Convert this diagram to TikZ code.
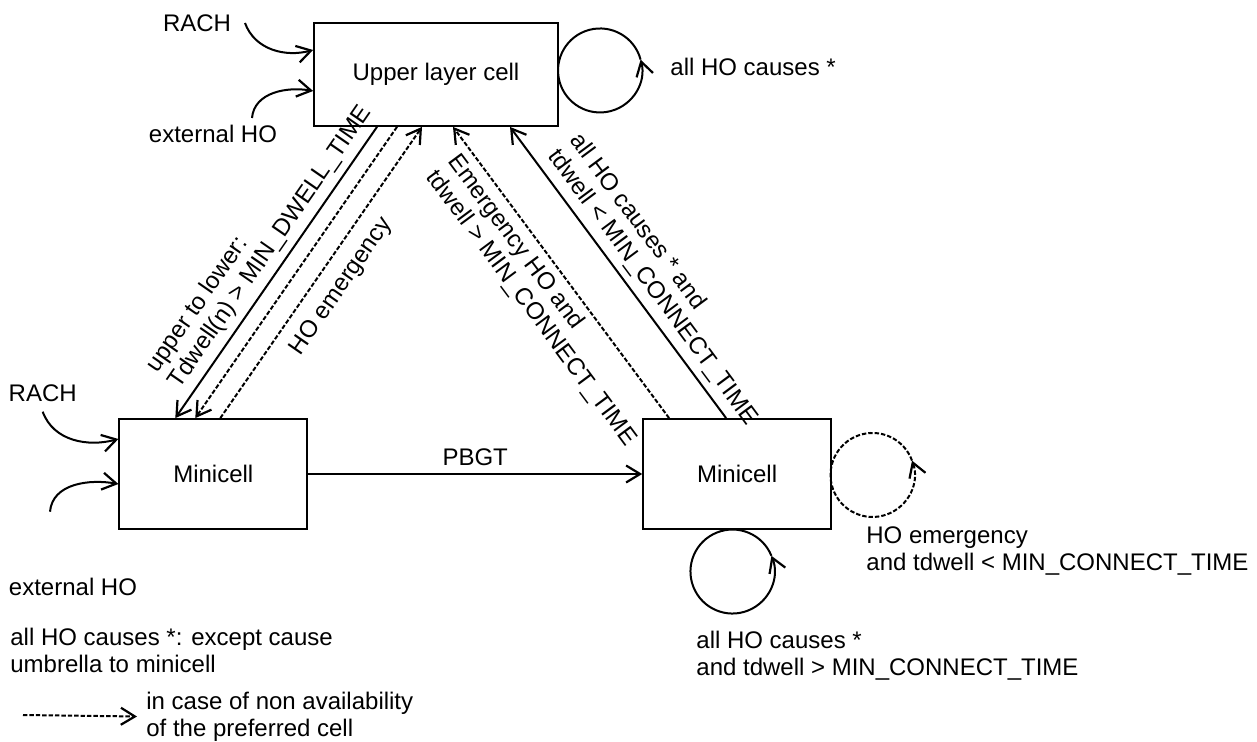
\documentclass[tikz,border=0pt]{standalone}
\usepackage{fontspec}
\setmainfont{Liberation Sans}
\usetikzlibrary{arrows.meta, positioning}

\begin{document}
\begin{tikzpicture}[
    x=0.5pt, y=0.5pt,
    font=\fontsize{12}{13.5}\selectfont,
    cell/.style={rectangle, draw, line width=0.9pt, minimum width=94pt, minimum height=55pt},
    line/.style={draw, line width=1pt, -{Straight Barb[length=7pt, width=8.5pt, line width=1.1pt]}},
    dline/.style={line, line width=1pt, dash pattern=on 2.2pt off 1pt},
    txt/.style={align=left, inner sep=0pt}
]
\useasboundingbox (0,0) rectangle (1257,-742);

% Nodes
\node[cell, minimum width=122pt, minimum height=51.5pt] (upper) at (436,-74.5) {Upper layer cell};
\node[cell] (minileft) at (213.3,-474) {Minicell};
\node[cell, right=167pt of minileft] (miniright) {Minicell};

% Labels
\node[txt] (rachup) at (197,-23) {RACH};
\node[txt] (extup) at (213,-134) {external HO};
\node[txt] (rachleft) at (42.7,-393) {RACH};
\node[txt] (extleft) at (73,-587) {external HO};
\node[txt, anchor=west] (allho) at (670,-67) {all HO causes *};
\node[txt, anchor=west] (emerloop) at (866,-551.5) {HO emergency\\and tdwell < MIN\_CONNECT\_TIME};
\node[txt, anchor=west] (allholoop) at (696,-656) {all HO causes *\\and tdwell > MIN\_CONNECT\_TIME};
\node[txt, anchor=west] (note) at (10,-650.5) {all HO causes *: except cause\\umbrella to minicell};
\node[txt, anchor=west] (legend) at (146,-716.5) {in case of non availability\\of the preferred cell};

% Free ends
\coordinate (rachupstart) at (245,-23);
\coordinate (extupstart) at (252,-118);
\coordinate (rachleftstart) at (42.7,-411.7);
\coordinate (extleftstart) at (50,-511.7);
\coordinate (upperloop) at (640.6,-59.6);
\coordinate (rightloop) at (912,-460.6);
\coordinate (bottomloop) at (771.4,-555.8);
\coordinate (legstart) at (23,-715);

% Paths
\path[line] (rachupstart) to[out=-70, in=195] ([yshift=12.25pt]upper.west);
\path[line] (extupstart) to[out=85, in=170] ([yshift=-8.25pt]upper.west);
\path[line] (rachleftstart) to[out=-70, in=195] ([yshift=17.5pt]minileft.west);
\path[line] (extleftstart) to[out=85, in=170] ([yshift=-5pt]minileft.west);

\path[line] ([xshift=-29.5pt]upper.south) -- node[sloped, above, pos=0.45, align=left] {upper to lower:\\Tdwell(n) > MIN\_DWELL\_TIME} ([xshift=-19pt]minileft.north);
\path[dline] ([xshift=-19.5pt]upper.south) -- ([xshift=-9pt]minileft.north);
\path[dline] ([xshift=3.5pt]minileft.north) -- node[sloped, below=3pt] {HO emergency} ([xshift=-7pt]upper.south);

\path[dline] ([xshift=-34pt]miniright.north) -- node[sloped, below, pos=0.47, align=left] {Emergency HO and\\tdwell > MIN\_CONNECT\_TIME} ([xshift=8.5pt]upper.south);
\path[line] ([xshift=-5.5pt]miniright.north) -- node[sloped, above, pos=0.41, align=left] {all HO causes * and\\tdwell < MIN\_CONNECT\_TIME} ([xshift=37pt]upper.south);

\path[line, line width=1.4pt] (minileft) -- node[above] {PBGT} (miniright);

% Loops
\path[line] (upperloop) arc[start angle=15, end angle=375, radius=42];
\path[dline] (rightloop) arc[start angle=20, end angle=380, radius=42];
\path[line] (bottomloop) arc[start angle=22, end angle=382, radius=42];

% Legend
\path[dline] (legstart) -- ([xshift=-4.5pt]legend.west);

\end{tikzpicture}
\end{document}
